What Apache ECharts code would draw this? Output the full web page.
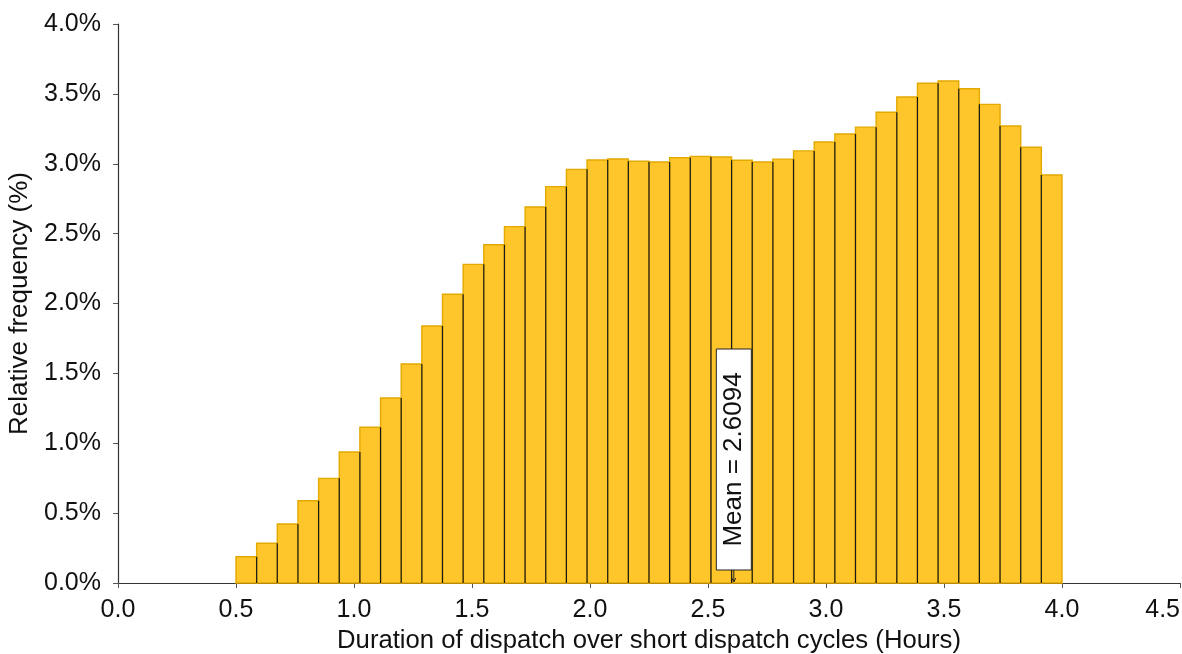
<!DOCTYPE html>
<html>
<head>
<meta charset="utf-8">
<script src="https://cdn.jsdelivr.net/npm/echarts@6/dist/echarts.min.js"></script>
<style>
html,body{margin:0;padding:0;background:#fff;overflow:hidden;}
#chart{width:1182px;height:654px;}
</style>
</head>
<body>
<div id="chart"></div>
<script>
// Histogram: bins start at 0.5 h, width 0.0875 h (40 bins up to 4.0 h)
const binStart = 0.5;
const binWidth = 0.0875;
const frequencies = [
  0.188, 0.284, 0.422, 0.589, 0.749, 0.937, 1.114, 1.324, 1.567, 1.839,
  2.066, 2.280, 2.420, 2.550, 2.690, 2.836, 2.960, 3.027, 3.034, 3.018,
  3.012, 3.043, 3.053, 3.048, 3.025, 3.012, 3.033, 3.092, 3.156, 3.213,
  3.262, 3.368, 3.478, 3.576, 3.592, 3.537, 3.425, 3.270, 3.118, 2.920
];
const meanValue = 2.6094;
const meanLabel = 'Mean = 2.6094';
const xTicks = [0, 0.5, 1.0, 1.5, 2.0, 2.5, 3.0, 3.5, 4.0, 4.5];
const yTicks = [0, 0.5, 1.0, 1.5, 2.0, 2.5, 3.0, 3.5, 4.0];
const xTitle = 'Duration of dispatch over short dispatch cycles (Hours)';
const yTitle = 'Relative frequency (%)';

const FONT = '"Liberation Sans", Arial, Helvetica, sans-serif';
const barData = frequencies.map((v, i) => [binStart + i * binWidth, binStart + (i + 1) * binWidth, v, i]);

const chart = echarts.init(document.getElementById('chart'));
chart.setOption({
  animation: false,
  backgroundColor: '#fff',
  grid: { left: 118, right: 2, top: 24, bottom: 71, containLabel: false, outerBoundsMode: 'none' },
  xAxis: {
    type: 'value', min: xTicks[0], max: xTicks[xTicks.length - 1], interval: 0.5,
    name: xTitle, nameLocation: 'middle', nameGap: 27,
    nameTextStyle: { fontFamily: FONT, fontSize: 25.7, color: '#111' },
    axisLine: { show: true, onZero: false, lineStyle: { color: '#333', width: 1.2 } },
    axisTick: { show: true, length: 5, lineStyle: { color: '#555' } },
    axisLabel: { fontFamily: FONT, fontSize: 25, color: '#111', margin: 15, alignMaxLabel: 'right', formatter: v => v.toFixed(1) },
    splitLine: { show: false }
  },
  yAxis: {
    type: 'value', min: yTicks[0], max: yTicks[yTicks.length - 1], interval: 0.5,
    name: yTitle, nameLocation: 'middle', nameGap: 76,
    nameTextStyle: { fontFamily: FONT, fontSize: 26, color: '#111' },
    axisLine: { show: true, lineStyle: { color: '#333', width: 1.2 } },
    axisTick: { show: true, length: 5, lineStyle: { color: '#555' } },
    axisLabel: { fontFamily: FONT, fontSize: 25, color: '#111', margin: 17, formatter: v => v.toFixed(1) + '%' },
    splitLine: { show: false }
  },
  series: [
    {
      type: 'custom',
      data: barData,
      encode: { x: [0, 1], y: 2 },
      renderItem: function (params, api) {
        const x0 = api.value(0), x1 = api.value(1), v = api.value(2), idx = api.value(3);
        const pTop = api.coord([x0, v]);
        const pBot = api.coord([x1, 0]);
        const children = [{
          type: 'rect',
          shape: { x: pTop[0], y: pTop[1], width: pBot[0] - pTop[0], height: pBot[1] - pTop[1] },
          style: { fill: '#FFC62C', stroke: '#E2A900', lineWidth: 1.4 }
        }];
        if (idx > 0) {
          const h = Math.min(v, frequencies[idx - 1]);
          const pa = api.coord([x0, h]);
          children.push({
            type: 'line',
            shape: { x1: pTop[0], y1: pa[1], x2: pTop[0], y2: pBot[1] },
            style: { stroke: '#1a1a1a', lineWidth: 1.2 }
          });
        }
        return { type: 'group', children: children };
      },
      z: 2
    },
    {
      type: 'custom',
      data: [[meanValue, 0]],
      encode: { x: 0, y: 1 },
      renderItem: function (params, api) {
        const p = api.coord([api.value(0), api.value(1)]);
        const w = 35, h = 221, gap = 13;
        return {
          type: 'group',
          children: [
            { type: 'line', shape: { x1: p[0], y1: p[1] - gap, x2: p[0], y2: p[1] - 1 }, style: { stroke: '#222', lineWidth: 1 } },
            { type: 'polyline', shape: { points: [[p[0] - 2, p[1] - 5], [p[0], p[1] - 1], [p[0] + 2, p[1] - 5]] }, style: { stroke: '#222', fill: null, lineWidth: 1 } },
            { type: 'rect', shape: { x: p[0] - w / 2, y: p[1] - gap - h, width: w, height: h }, style: { fill: '#fff', stroke: '#222', lineWidth: 1 } },
            {
              type: 'text',
              x: p[0], y: p[1] - gap - h / 2,
              rotation: Math.PI / 2,
              style: { text: meanLabel, fontFamily: FONT, fontSize: 26, fill: '#111', align: 'center', verticalAlign: 'middle' }
            }
          ]
        };
      },
      z: 5
    }
  ]
});
</script>
</body>
</html>
